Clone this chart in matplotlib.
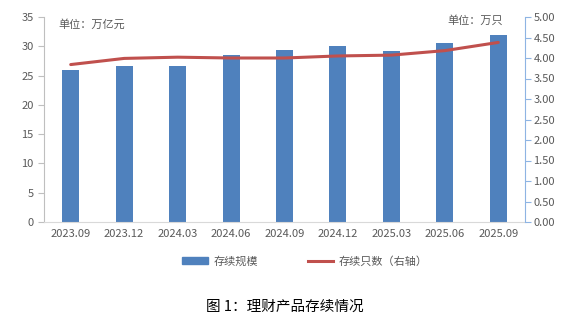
import numpy as np
import matplotlib.pyplot as plt
from matplotlib.patches import Patch
from matplotlib.lines import Line2D

plt.rcParams['font.family'] = ['Noto Sans CJK SC', 'DejaVu Sans']

periods = ["2023.09", "2023.12", "2024.03", "2024.06", "2024.09",
           "2024.12", "2025.03", "2025.06", "2025.09"]
scale = [26.0, 26.7, 26.6, 28.5, 29.4, 30.0, 29.2, 30.6, 32.0]      # 万亿元
count = [3.84, 3.99, 4.02, 4.00, 4.00, 4.05, 4.07, 4.18, 4.38]      # 万只

bar_color = "#4F81BD"
line_color = "#C0504D"
grey = "#595959"

fig = plt.figure(figsize=(5.73, 3.26), dpi=100)
ax = fig.add_axes([44 / 573, 1 - 222 / 326, 481 / 573, 205 / 326])
ax2 = ax.twinx()

x = np.arange(len(periods))
ax.bar(x, scale, width=0.32, color=bar_color, zorder=2)
ax2.plot(x, count, color=line_color, linewidth=2.2, solid_capstyle="round")

ax.set_xlim(-0.5, len(periods) - 0.5)
ax.set_ylim(0, 35)
ax.set_yticks(range(0, 36, 5))
ax2.set_ylim(0, 5)
ax2.set_yticks(np.arange(0, 5.01, 0.5))
ax2.set_yticklabels([f"{v:.2f}" for v in np.arange(0, 5.01, 0.5)])

ax.set_xticks(x)
ax.set_xticklabels(periods)

for a in (ax, ax2):
    a.spines["top"].set_visible(False)
ax.spines["right"].set_visible(False)
ax.spines["left"].set_color("#BFBFBF")
ax.spines["bottom"].set_color("#D9D9D9")
ax2.spines["left"].set_visible(False)
ax2.spines["bottom"].set_visible(False)
ax2.spines["right"].set_color("#8EB4E3")

ax.tick_params(axis="y", colors="#BFBFBF", labelcolor=grey, labelsize=8,
               length=4, direction="out")
ax.tick_params(axis="x", length=0, labelcolor=grey, labelsize=8, pad=5)
ax2.tick_params(axis="y", colors="#8EB4E3", labelcolor=grey, labelsize=8,
                length=4, direction="out", pad=2)

# unit notes for both axes
fig.text(58 / 573, 1 - 24 / 326, "单位：万亿元", fontsize=8, color=grey,
         va="center", ha="left")
fig.text(447 / 573, 1 - 20 / 326, "单位：万只", fontsize=8, color=grey,
         va="center", ha="left")

handles = [Patch(color=bar_color), Line2D([], [], color=line_color, linewidth=2.2)]
fig.legend(handles, ["存续规模", "存续只数（右轴）"], loc="center",
           bbox_to_anchor=(305 / 573, 1 - 261 / 326), ncol=2, frameon=False,
           fontsize=8, labelcolor=grey, handlelength=2.3, handleheight=0.5,
           handletextpad=0.5, columnspacing=4.5)

fig.text(285 / 573, 1 - 307 / 326, "图 1：理财产品存续情况", fontsize=10.5,
         ha="center", va="center", color="black")

fig.savefig("out.png", dpi=100)
